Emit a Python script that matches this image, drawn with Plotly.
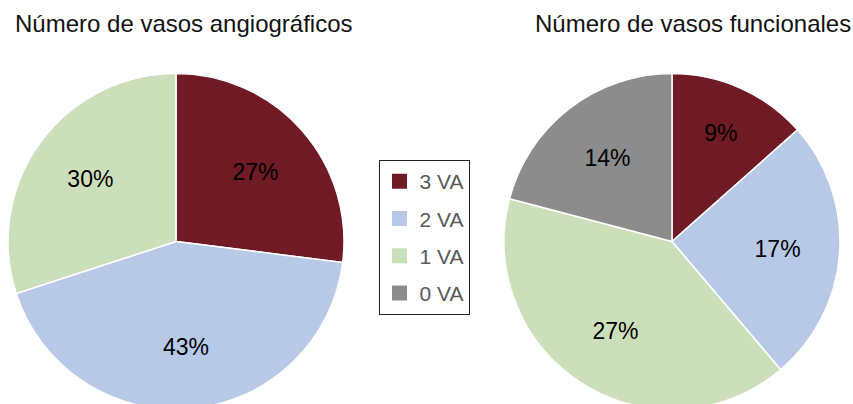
import plotly.graph_objects as go

# ---- data ----
categories = ["3 VA", "2 VA", "1 VA", "0 VA"]
angio_values = [27, 43, 30]          # Número de vasos angiográficos (%)
func_values = [9, 17, 27, 14]        # Número de vasos funcionales (%)
titles = ["Número de vasos angiográficos", "Número de vasos funcionales"]

colors = {"3 VA": "#701A26", "2 VA": "#B8C9E8", "1 VA": "#CCDFBB", "0 VA": "#8C8C8C"}

W, H = 853, 410   # slightly taller than the window: pies are cut at the bottom as in the reference
FONT = "Liberation Sans, Arial, sans-serif"

fig = go.Figure()

def add_pie(values, x0, x1):
    labs = categories[:len(values)]
    dom = dict(x=[x0 / W, x1 / W], y=[0, 1 - 73 / H])
    # coloured slices
    fig.add_trace(go.Pie(
        labels=labs, values=values, textinfo="none",
        marker=dict(colors=[colors[c] for c in labs], line=dict(color="white", width=1.5)),
        sort=False, direction="clockwise", rotation=0,
        showlegend=False, hoverinfo="label+percent", domain=dom,
    ))
    # percentage labels (same slices, transparent, ring so labels sit further out)
    fig.add_trace(go.Pie(
        labels=labs, values=values,
        text=[f"{v}%" for v in values],
        textinfo="text", textposition="inside",
        insidetextorientation="horizontal",
        textfont=dict(family=FONT, size=23, color="black"),
        marker=dict(colors=["rgba(0,0,0,0)"] * len(labs), line=dict(width=0)),
        hole=0.26,
        sort=False, direction="clockwise", rotation=0,
        showlegend=False, hoverinfo="skip", domain=dom,
    ))

add_pie(angio_values, 8, 344)
add_pie(func_values, 504, 840)

# legend entries (one group per category so the gap can be set)
for c in categories:
    fig.add_trace(go.Scatter(
        x=[None], y=[None], mode="markers", name=c,
        legendgroup=c, showlegend=True,
        marker=dict(symbol="square", size=15, color=colors[c]),
    ))

for t, cx in zip(titles, [183.5, 693]):
    fig.add_annotation(
        text=t, x=cx / W, y=1 - 23 / H, xref="paper", yref="paper",
        xanchor="center", yanchor="middle", showarrow=False,
        font=dict(family=FONT, size=24, color="#111111"),
    )

fig.update_layout(
    width=W, height=H,
    margin=dict(l=0, r=0, t=0, b=0),
    paper_bgcolor="white", plot_bgcolor="white",
    xaxis=dict(visible=False), yaxis=dict(visible=False),
    legend=dict(
        x=424 / W, y=1 - 160 / H, xanchor="center", yanchor="top",
        bgcolor="white", bordercolor="#222222", borderwidth=1,
        font=dict(family=FONT, size=21, color="#595959"),
        traceorder="grouped", tracegroupgap=7,
        itemclick=False, itemdoubleclick=False,
    ),
    font=dict(family=FONT),
)

fig.write_html(
    "out.html",
    config={"displayModeBar": False},
    post_script="document.body.style.margin='0';"
                "document.body.style.overflow='hidden';"
                "document.documentElement.style.overflow='hidden';",
)
